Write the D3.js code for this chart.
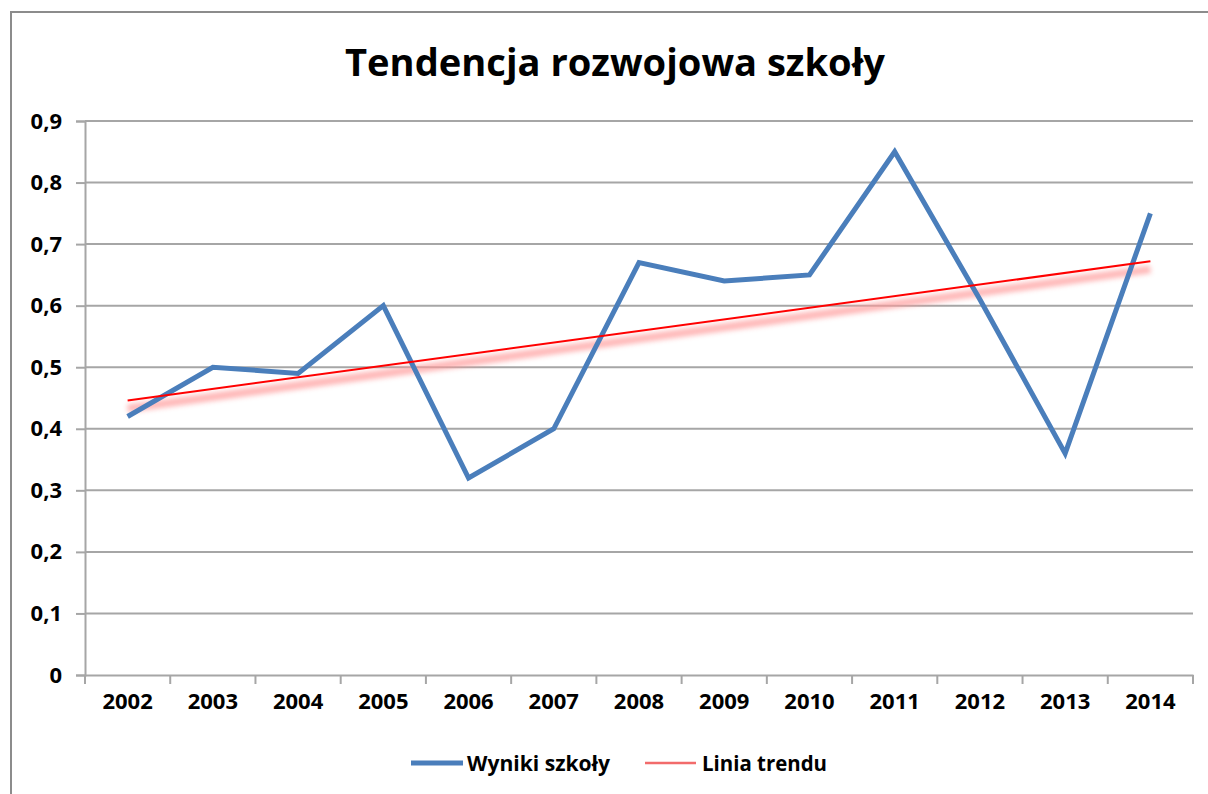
<!DOCTYPE html>
<html>
<head>
<meta charset="utf-8">
<script src="https://cdn.jsdelivr.net/npm/d3@7"></script>
<style>
  body { margin: 0; background: #fff; }
  text { font-family: "Open Sans", "Noto Sans", sans-serif; font-weight: bold; fill: #000; }
</style>
</head>
<body>
<div id="graphicContainer"></div>
<script>

// data
var years = [2002, 2003, 2004, 2005, 2006, 2007, 2008, 2009, 2010, 2011, 2012, 2013, 2014];
var wyniki = [0.42, 0.50, 0.49, 0.60, 0.32, 0.40, 0.67, 0.64, 0.65, 0.85, 0.61, 0.36, 0.75];
var trendYears = [2002, 2014];
var trendValues = [0.446, 0.672];
var yTicks = [0, 0.1, 0.2, 0.3, 0.4, 0.5, 0.6, 0.7, 0.8, 0.9];

var title = "Tendencja rozwojowa szkoły";
var seriesName = "Wyniki szkoły";
var trendName = "Linia trendu";

var w = 1208, h = 794;

var margin = {top: 121, right: 15, bottom: 119, left: 85},
    width = w - margin.left - margin.right,
    height = h - margin.top - margin.bottom;

var svg = d3.select("#graphicContainer").append("svg")
    .attr("width", w)
    .attr("height", h);

// outer chart border (runs off the right and bottom edge)
svg.append("rect")
    .attr("x", 11).attr("y", 12)
    .attr("width", 1400).attr("height", 900)
    .attr("fill", "none")
    .attr("stroke", "#8c8c8c")
    .attr("stroke-width", 2);

svg.append("text")
    .attr("x", 615)
    .attr("y", 76)
    .attr("text-anchor", "middle")
    .attr("font-size", 38)
    .attr("textLength", 540)
    .attr("lengthAdjust", "spacingAndGlyphs")
    .text(title);

var g = svg.append("g")
    .attr("transform", "translate(" + margin.left + "," + margin.top + ")");

var x = d3.scaleBand().domain(years).range([0, width]).padding(0);
var y = d3.scaleLinear().domain([0, 0.9]).range([height, 0]);

var cx = function(d) { return x(d) + x.bandwidth() / 2; };

var fmt = function(d) { return d === 0 ? "0" : d3.format(".1f")(d).replace(".", ","); };

// gridlines
g.append("g")
    .selectAll("line")
    .data(yTicks.filter(function(d) { return d > 0; }))
    .enter().append("line")
    .attr("x1", 0).attr("x2", width)
    .attr("y1", function(d) { return y(d); })
    .attr("y2", function(d) { return y(d); })
    .attr("stroke", "#a6a6a6")
    .attr("stroke-width", 2);

// y axis
var yAxis = d3.axisLeft(y).tickValues(yTicks).tickFormat(fmt).tickSize(9).tickPadding(14);
var ya = g.append("g").attr("class", "y axis").call(yAxis);
ya.select(".domain").attr("stroke", "#a6a6a6").attr("stroke-width", 2);
ya.selectAll(".tick line").attr("stroke", "#a6a6a6").attr("stroke-width", 2);
ya.selectAll(".tick text")
    .attr("font-size", 22)
    .attr("font-family", "'Open Sans', sans-serif")
    .attr("font-weight", "bold")
    .attr("fill", "#000");

// x axis: labels at band centres, ticks at band edges
var xAxis = d3.axisBottom(x).tickSize(0).tickPadding(18);
var xa = g.append("g").attr("class", "x axis")
    .attr("transform", "translate(0," + height + ")")
    .call(xAxis);
xa.select(".domain").attr("stroke", "#a6a6a6").attr("stroke-width", 2);
xa.selectAll(".tick text")
    .attr("font-size", 22)
    .attr("font-family", "'Open Sans', sans-serif")
    .attr("font-weight", "bold")
    .attr("fill", "#000");

var edges = years.map(function(d) { return x(d); }).concat([width]);
xa.selectAll(".edge")
    .data(edges)
    .enter().append("line")
    .attr("class", "edge")
    .attr("x1", function(d) { return d; })
    .attr("x2", function(d) { return d; })
    .attr("y1", 0).attr("y2", 9)
    .attr("stroke", "#a6a6a6")
    .attr("stroke-width", 2);

// trend line with soft shadow
var defs = svg.append("defs");
defs.append("filter").attr("id", "blur")
    .attr("x", "-5%").attr("y", "-50%").attr("width", "110%").attr("height", "200%")
    .append("feGaussianBlur").attr("stdDeviation", 2.5);

var trendData = trendYears.map(function(d, i) { return {year: d, value: trendValues[i]}; });
var trendLine = d3.line()
    .x(function(d) { return cx(d.year); })
    .y(function(d) { return y(d.value); });

g.append("path")
    .datum(trendData)
    .attr("d", trendLine)
    .attr("transform", "translate(0,8)")
    .attr("fill", "none")
    .attr("stroke", "#ff9a9a")
    .attr("stroke-width", 8)
    .attr("opacity", 0.7)
    .attr("filter", "url(#blur)");

// data line
var valueline = d3.line()
    .x(function(d, i) { return cx(years[i]); })
    .y(function(d) { return y(d); });

g.append("path")
    .datum(wyniki)
    .attr("d", valueline)
    .attr("fill", "none")
    .attr("stroke", "#4a7ebb")
    .attr("stroke-width", 5)
    .attr("stroke-linejoin", "miter");

g.append("path")
    .datum(trendData)
    .attr("d", trendLine)
    .attr("fill", "none")
    .attr("stroke", "#ff0000")
    .attr("stroke-width", 2);

// legend
var legend = svg.append("g");
legend.append("line")
    .attr("x1", 411).attr("x2", 463).attr("y1", 763).attr("y2", 763)
    .attr("stroke", "#4a7ebb").attr("stroke-width", 5);
legend.append("text")
    .attr("x", 467).attr("y", 771)
    .attr("font-size", 22)
    .attr("textLength", 143)
    .attr("lengthAdjust", "spacingAndGlyphs")
    .text(seriesName);
legend.append("line")
    .attr("x1", 645).attr("x2", 696).attr("y1", 763).attr("y2", 763)
    .attr("stroke", "#f26b6b").attr("stroke-width", 2.5);
legend.append("text")
    .attr("x", 702).attr("y", 771)
    .attr("font-size", 22)
    .attr("textLength", 125)
    .attr("lengthAdjust", "spacingAndGlyphs")
    .text(trendName);

</script>
</body>
</html>
